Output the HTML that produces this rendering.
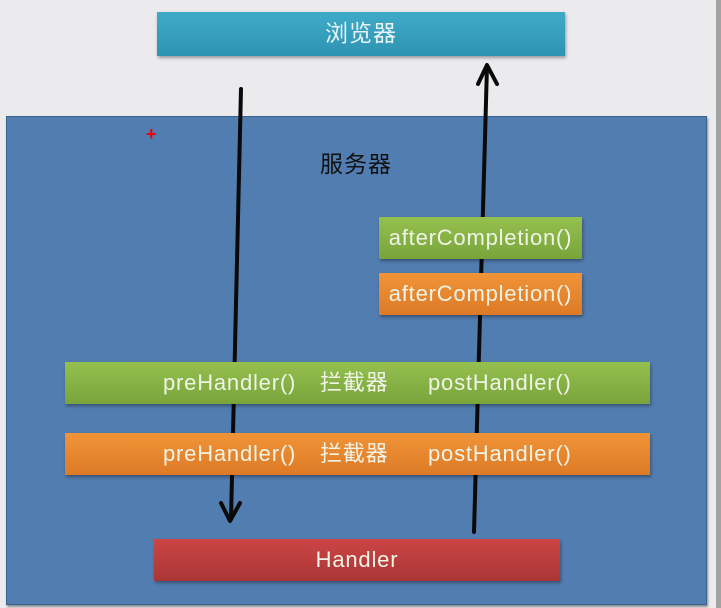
<!DOCTYPE html>
<html><head><meta charset="utf-8"><style>
body{margin:0;width:721px;height:608px;background:#ebebed;position:relative;overflow:hidden;font-family:"Liberation Sans","Noto Sans CJK SC",sans-serif;}
.b{position:absolute;color:#f0f4e8;font-size:22px;letter-spacing:0.8px;text-align:center;box-shadow:1px 2px 3px rgba(0,0,0,.35);}
.b span{top:0}
</style></head><body>
<div style="position:absolute;left:716px;top:0;width:5px;height:608px;background:#a3a3a3"></div>
<div style="position:absolute;left:6px;top:116px;width:699px;height:487px;background:#527db0;border:1px solid #3e6290;box-shadow:1px 2px 2px rgba(0,0,0,.4)"></div>
<div class="b" style="left:157px;top:12px;width:408px;height:44px;line-height:42px;background:linear-gradient(#3fabc9,#2f93b2);color:#e8f4f8;font-size:23px;letter-spacing:1px">浏览器</div>
<div style="position:absolute;left:320px;top:145px;font-size:23px;letter-spacing:1px;color:#111">服务器</div>
<div style="position:absolute;left:146px;top:124px;color:#e00;font-size:18px;font-weight:bold">+</div>
<svg width="721" height="608" style="position:absolute;left:0;top:0">
<g stroke="#0a0a0a" stroke-width="4" fill="none" stroke-linecap="round" stroke-linejoin="round">
<line x1="241" y1="89" x2="231" y2="519"/>
<polyline points="221,503 230,521 240,503"/>
<line x1="474" y1="532" x2="487" y2="66"/>
<polyline points="478,84 487,65 497,84"/>
</g>
</svg>
<div class="b" style="left:65px;top:362px;width:585px;height:42px;line-height:42px;background:linear-gradient(#95c04f,#78a43b)"><span style="position:absolute;left:98px">preHandler()</span><span style="position:absolute;left:255px">拦截器</span><span style="position:absolute;left:363px">postHandler()</span></div>
<div class="b" style="left:65px;top:433px;width:585px;height:42px;line-height:42px;background:linear-gradient(#f09438,#dd7a26)"><span style="position:absolute;left:98px">preHandler()</span><span style="position:absolute;left:255px">拦截器</span><span style="position:absolute;left:363px">postHandler()</span></div>
<div class="b" style="left:379px;top:217px;width:203px;height:42px;line-height:42px;background:linear-gradient(#95c04f,#78a43b)">afterCompletion()</div>
<div class="b" style="left:379px;top:273px;width:203px;height:42px;line-height:42px;background:linear-gradient(#f09438,#dd7a26)">afterCompletion()</div>
<div class="b" style="left:154px;top:539px;width:406px;height:42px;line-height:42px;background:linear-gradient(#cc4545,#a93636)">Handler</div>
</body></html>
